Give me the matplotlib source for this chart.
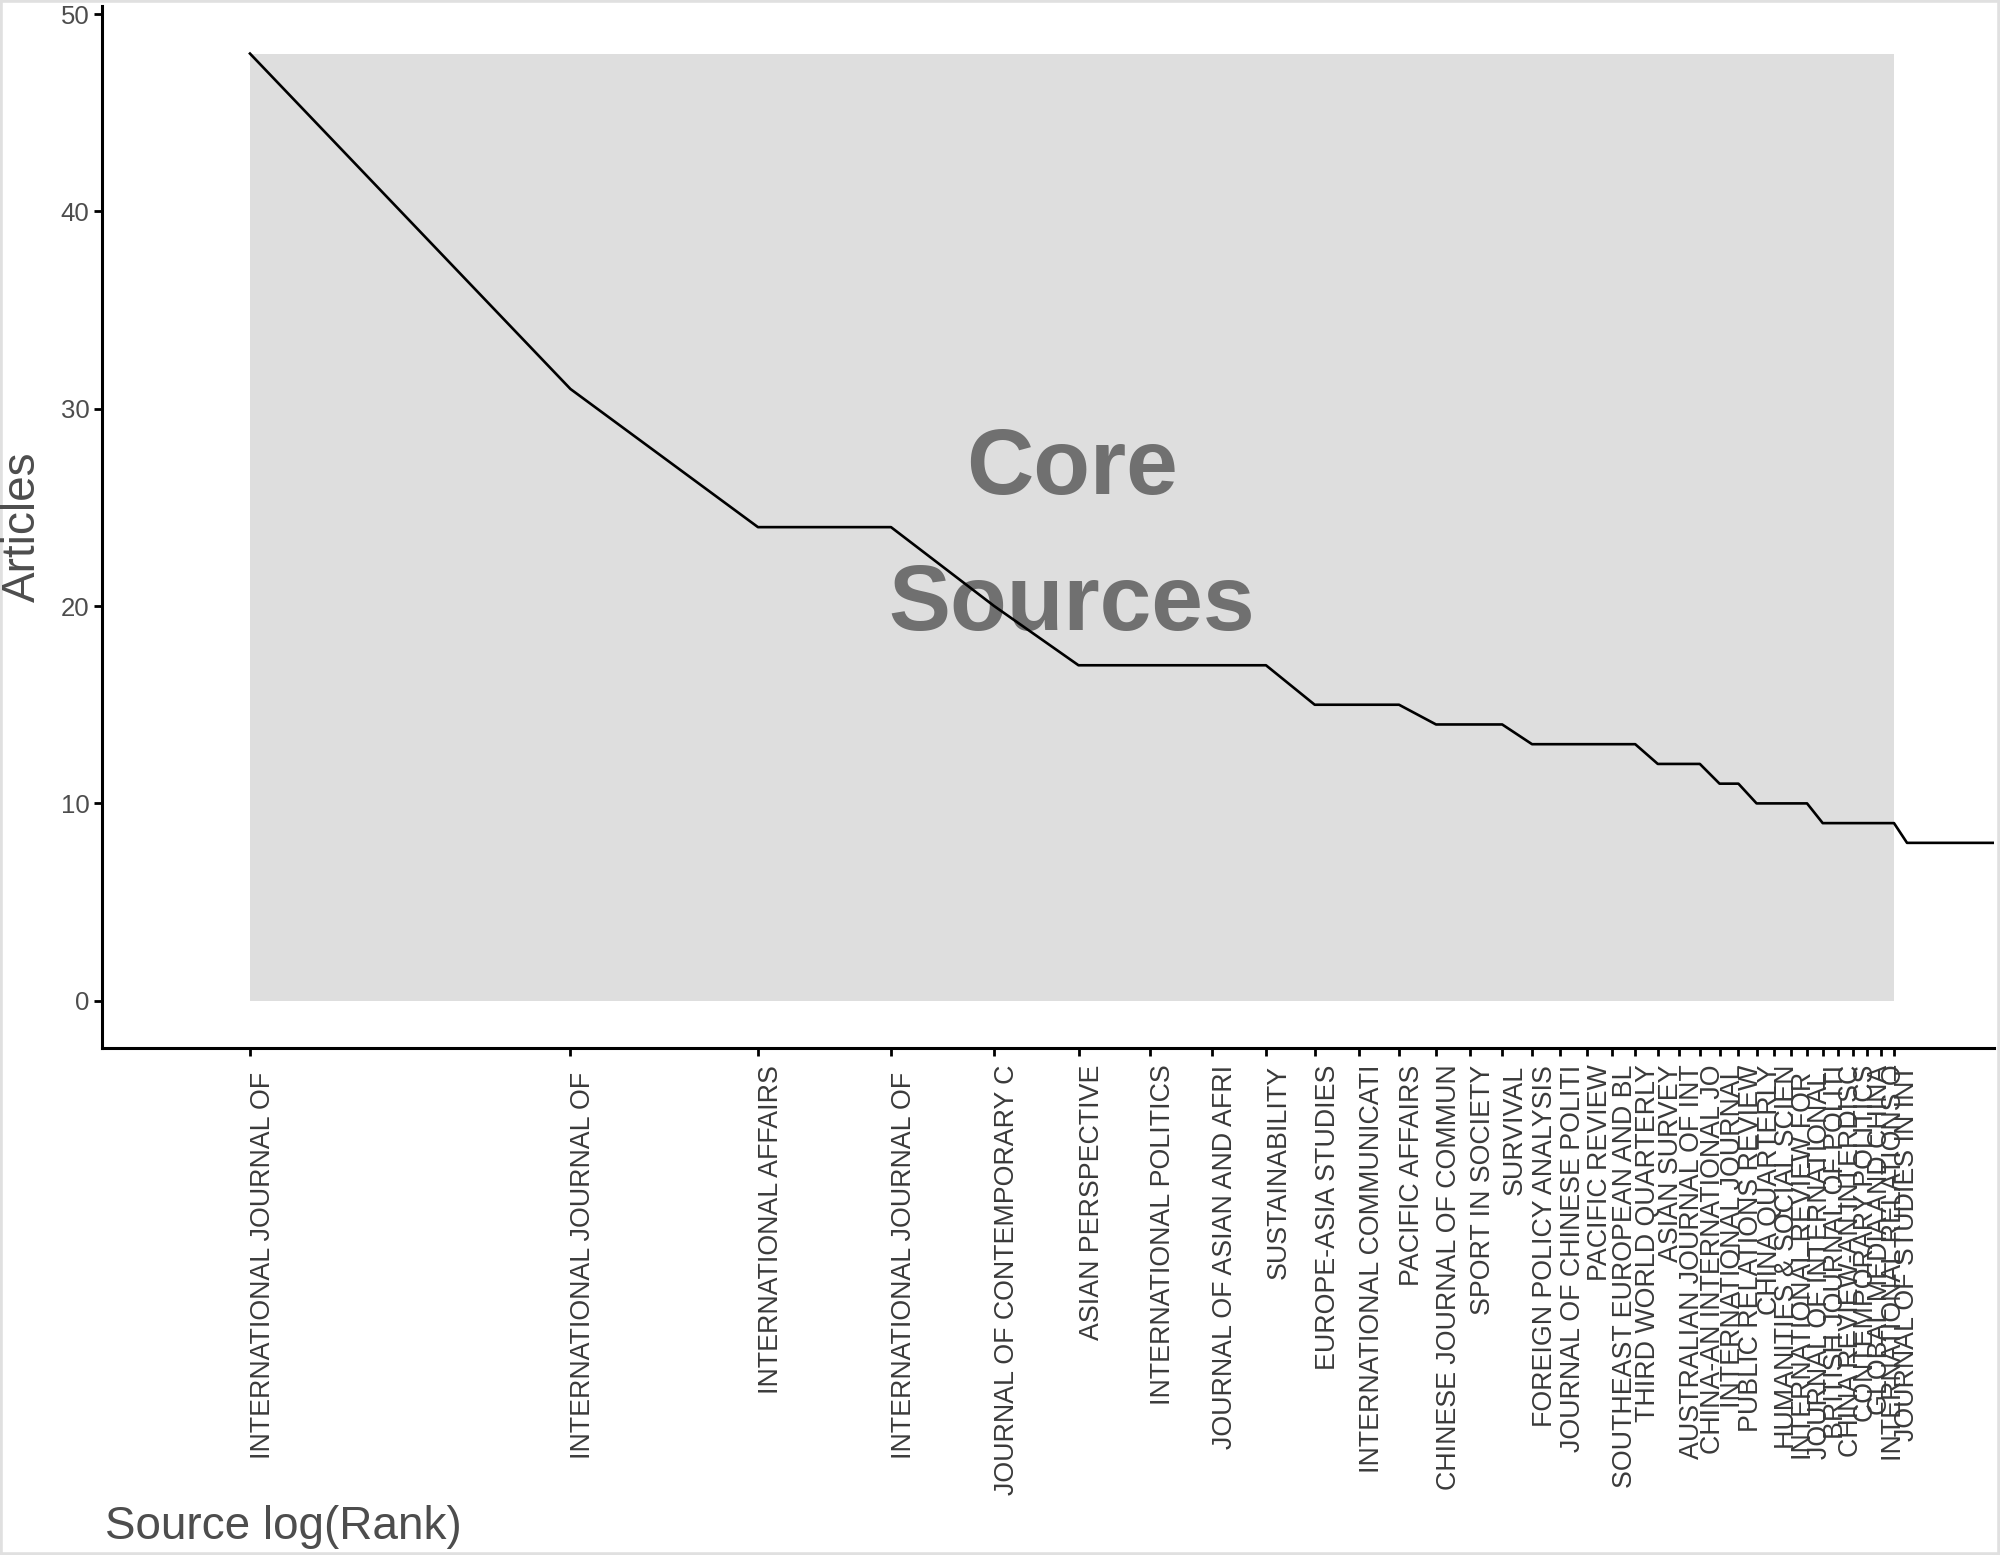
import numpy as np
import matplotlib
matplotlib.use('Agg')
import matplotlib.pyplot as plt
from matplotlib.patches import Rectangle

plt.rcParams['font.family'] = ['Liberation Sans', 'DejaVu Sans']

# Core sources (Bradford zone 1), names cut to 25 characters
sources = [
    'INTERNATIONAL JOURNAL OF ', 'INTERNATIONAL JOURNAL OF ', 'INTERNATIONAL AFFAIRS',
    'INTERNATIONAL JOURNAL OF ', 'JOURNAL OF CONTEMPORARY C', 'ASIAN PERSPECTIVE',
    'INTERNATIONAL POLITICS', 'JOURNAL OF ASIAN AND AFRI', 'SUSTAINABILITY',
    'EUROPE-ASIA STUDIES', 'INTERNATIONAL COMMUNICATI', 'PACIFIC AFFAIRS',
    'CHINESE JOURNAL OF COMMUN', 'SPORT IN SOCIETY', 'SURVIVAL',
    'FOREIGN POLICY ANALYSIS', 'JOURNAL OF CHINESE POLITI', 'PACIFIC REVIEW',
    'SOUTHEAST EUROPEAN AND BL', 'THIRD WORLD QUARTERLY', 'ASIAN SURVEY',
    'AUSTRALIAN JOURNAL OF INT', 'CHINA-AN INTERNATIONAL JO', 'INTERNATIONAL JOURNAL',
    'PUBLIC RELATIONS REVIEW', 'CHINA QUARTERLY', 'HUMANITIES & SOCIAL SCIEN',
    'INTERNATIONAL REVIEW FOR ', 'JOURNAL OF INTERNATIONAL ', 'BRITISH JOURNAL OF POLITI',
    'CHINA REVIEW-AN INTERDISC', 'CONTEMPORARY POLITICS', 'GLOBAL MEDIA AND CHINA',
    'INTERNATIONAL RELATIONS O', 'JOURNAL OF STUDIES IN INT',
]
# articles per source, ordered by rank (core sources first, then a few more)
articles = [48, 31, 24, 24, 20, 17, 17, 17, 17, 15, 15, 15, 14, 14, 14,
            13, 13, 13, 13, 13, 12, 12, 12, 11, 11, 10, 10, 10, 10,
            9, 9, 9, 9, 9, 9,
            8, 8, 8, 8, 8, 8, 8, 8, 8]

rank = np.arange(1, len(articles) + 1)
log_rank = np.log(rank)
n_core = len(sources)

fig = plt.figure(figsize=(20, 15.55), dpi=100)
ax = fig.add_axes([0.051, 0.326, 0.946, 0.670])

# shaded core zone
ax.add_patch(Rectangle((0, 0), log_rank[n_core - 1], max(articles),
                       facecolor='#dedede', edgecolor='none', zorder=1))

ax.text(log_rank[n_core - 1] / 2, max(articles) / 2 - 0.55, 'Core\nSources',
        fontsize=67, fontweight='bold', color='#707070',
        ha='center', va='center', linespacing=1.75, zorder=2)

ax.plot(log_rank, articles, color='black', linewidth=1.9, zorder=3)

ax.set_xlim(-0.32, 3.7716)
ax.set_ylim(-2.4, 50.4)

ax.set_xticks(log_rank[:n_core])
ax.set_xticklabels(sources, rotation=90, ha='left', va='top')
ax.set_yticks([0, 10, 20, 30, 40, 50])

ax.tick_params(axis='both', colors='black', width=2.0, length=6,
               labelcolor='#3a3a3a')
ax.tick_params(axis='x', labelsize=19.3, pad=6)
ax.tick_params(axis='y', labelsize=18.5, pad=3, labelcolor='#4d4d4d')

for side in ['top', 'right']:
    ax.spines[side].set_visible(False)
for side in ['left', 'bottom']:
    ax.spines[side].set_linewidth(2.2)
    ax.spines[side].set_color('black')

# axis titles
fig.text(0.0115, 0.326 + 0.670 / 2, 'Articles', rotation=90, fontsize=33,
         color='#4d4d4d', ha='center', va='center')
fig.text(0.0525, 0.018, 'Source log(Rank)', fontsize=33,
         color='#4d4d4d', ha='left', va='center')

# thin grey frame round the picture
fig.patches.append(Rectangle((0, 0), 1, 1, transform=fig.transFigure, fill=False,
                             edgecolor='#e0e0e0', linewidth=4))

fig.savefig('out.png', dpi=100)
